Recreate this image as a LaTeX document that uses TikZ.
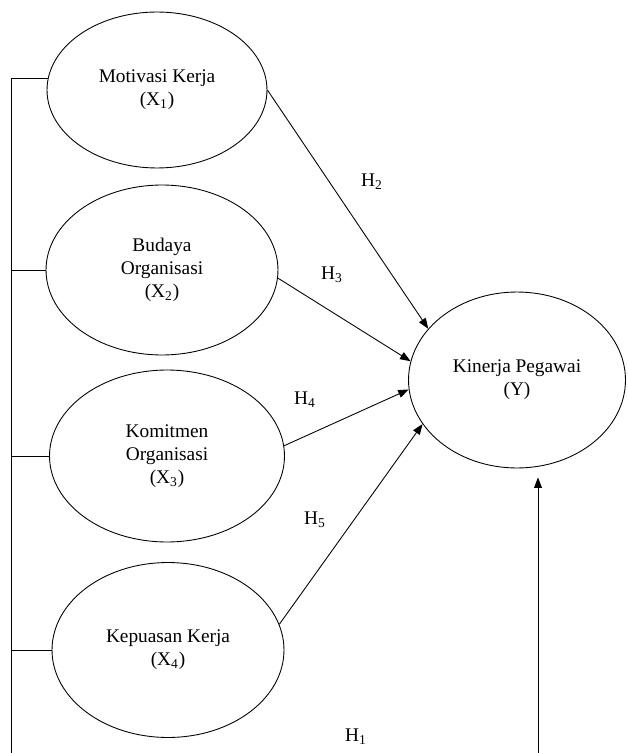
\documentclass[tikz,border=0pt]{standalone}
\usepackage{fontspec}
\setmainfont{Liberation Serif}
\usetikzlibrary{shapes.geometric,arrows.meta}
\tikzset{
  var/.style={draw, ellipse, inner sep=0pt, align=center, font=\fontsize{11}{13}\selectfont},
  hyp/.style={font=\fontsize{11}{13}\selectfont},
  link/.style={-{Triangle[length=6pt,width=4.5pt]}}
}
\begin{document}
\begin{tikzpicture}[x=0.02cm,y=-0.02cm,line width=0.5pt]
\useasboundingbox (0,0) rectangle (628,753);
\node[var, minimum width=4.4cm, minimum height=3.12cm] (x1) at (157,90) {Motivasi Kerja\\(X\textsubscript{1})};
\node[var, minimum width=4.64cm, minimum height=3.4cm] (x2) at (162,270) {Budaya\\Organisasi\\(X\textsubscript{2})};
\node[var, minimum width=4.7cm, minimum height=3.44cm] (x3) at (167,456) {Komitmen\\Organisasi\\(X\textsubscript{3})};
\node[var, minimum width=4.64cm, minimum height=3.5cm] (x4) at (168,650) {Kepuasan Kerja\\(X\textsubscript{4})};
\node[var, minimum width=4.34cm, minimum height=3.52cm] (kp) at (517,380) {Kinerja Pegawai\\(Y)};
\coordinate (rail) at (11,753);
\draw (rail) |- (x1.174);
\foreach \v in {x2,x3,x4}{
  \draw (rail |- \v.west) -- (\v.west);
}
\foreach \src/\a/\b in {x1/0/150, x2/-4/170, x3/5/185, x4/13/205}{
  \draw[link] (\src.\a) -- (kp.\b);
}
\coordinate (h1foot) at (538,753);
\draw[link, shorten >=0.18cm] (h1foot) -- (h1foot |- kp.south);
\foreach \i/\x/\y in {1/356/737, 2/372/182, 3/332/275, 4/305/400, 5/315/520}{
  \node[hyp] (h\i) at (\x,\y) {H\textsubscript{\i}};
}
\end{tikzpicture}
\end{document}
